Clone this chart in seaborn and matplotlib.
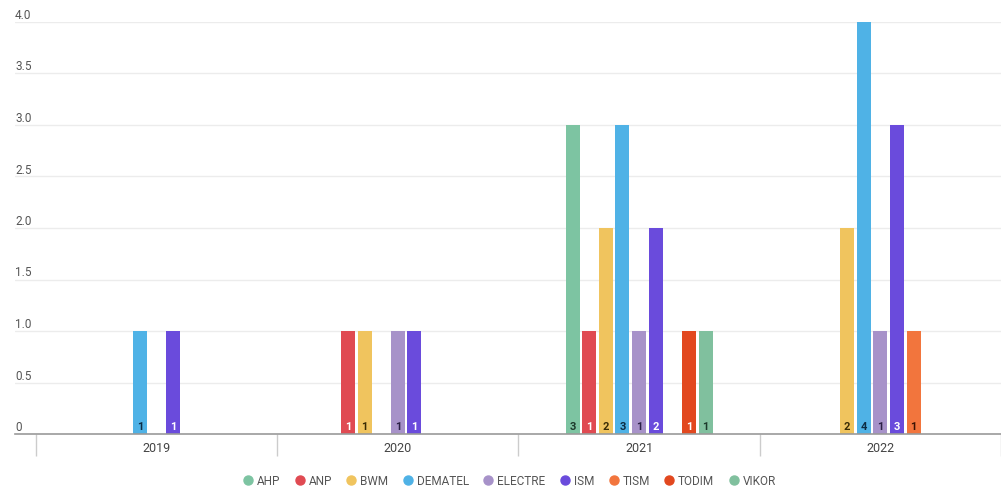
import matplotlib
matplotlib.use("Agg")
import matplotlib.pyplot as plt
from matplotlib.lines import Line2D
import numpy as np
import pandas as pd
import seaborn as sns

years = ["2019", "2020", "2021", "2022"]
methods = ["AHP", "ANP", "BWM", "DEMATEL", "ELECTRE", "ISM", "TISM", "TODIM", "VIKOR"]
ahp = [0, 0, 3, 0]
anp = [0, 1, 1, 0]
bwm = [0, 1, 2, 2]
dematel = [1, 0, 3, 4]
electre = [0, 1, 1, 1]
ism = [1, 1, 2, 3]
tism = [0, 0, 0, 1]
todim = [0, 0, 1, 0]
vikor = [0, 0, 1, 0]

colors = ["#7dc4a2", "#e04a52", "#f0c45e", "#4fb2e6", "#a792c9",
          "#6a4bdc", "#f2753d", "#e2481f", "#80c09e"]
text_colors = ["#1d3a2c", "#ffffff", "#3a2c05", "#0d2c44", "#2b1f45",
               "#ffffff", "#3a1405", "#ffffff", "#1d3a2c"]

series = [ahp, anp, bwm, dematel, electre, ism, tism, todim, vikor]
df = pd.DataFrame(
    [(y, m, v[i]) for m, v in zip(methods, series) for i, y in enumerate(years)],
    columns=["year", "method", "count"],
)

sns.set_theme(style="white")
plt.rcParams["font.family"] = ["Roboto", "DejaVu Sans"]

W, H = 1001, 494
# gridlines run under the value labels, so the axes start at the far left
left_px, group_px = 15, 242
fig = plt.figure(figsize=(W / 100, H / 100), dpi=100)
ax = fig.add_axes([left_px / W, 60 / H, (W - left_px) / W, 412 / H])

sns.barplot(
    data=df, x="year", y="count", hue="method", order=years, hue_order=methods,
    palette=colors, width=0.62, gap=0.16, linewidth=0, saturation=1,
    errorbar=None, legend=False, ax=ax,
)

# value labels sitting at the base of each bar
for cont, tc in zip(ax.containers, text_colors):
    for patch, val in zip(cont.patches, cont.datavalues):
        if val > 0:
            ax.text(patch.get_x() + patch.get_width() / 2, 0.02, f"{val:g}",
                    ha="center", va="bottom", fontsize=8, color=tc,
                    fontweight="bold")

ax.set_xlim(-0.5 - (36 - left_px) / group_px, -0.5 + (W - 36) / group_px)
ax.set_ylim(0, 4.0)
ax.set_yticks(np.arange(0, 4.01, 0.5))
ax.set_yticklabels(["0"] + [f"{v:.1f}" for v in np.arange(0.5, 4.01, 0.5)],
                   ha="left", va="bottom")
ax.yaxis.grid(True, color="#ececec", linewidth=1)
ax.set_axisbelow(True)
for s in ["top", "right", "left"]:
    ax.spines[s].set_visible(False)
ax.spines["bottom"].set_color("#9a9a9a")
ax.spines["bottom"].set_linewidth(1.2)

ax.tick_params(axis="y", length=0, pad=0, labelsize=8.5, labelcolor="#555555")
ax.tick_params(axis="x", which="major", length=0, pad=6, labelsize=9,
               labelcolor="#444444")
ax.set_xticks(np.arange(-0.5, 4.0, 1.0), minor=True)
ax.tick_params(axis="x", which="minor", bottom=True, length=16, width=1,
               color="#cccccc")
ax.set_xlabel("")
ax.set_ylabel("")

handles = [Line2D([0], [0], marker="o", linestyle="", markersize=6.5,
                  markerfacecolor=c, markeredgecolor=c) for c in colors]
fig.legend(handles, methods, loc="center", bbox_to_anchor=(509 / W, 1 - 481 / H),
           ncol=9, frameon=False, fontsize=8.5, labelcolor="#555555",
           handletextpad=0.25, columnspacing=1.15, handlelength=1.0)

fig.savefig("out.png", dpi=100)
